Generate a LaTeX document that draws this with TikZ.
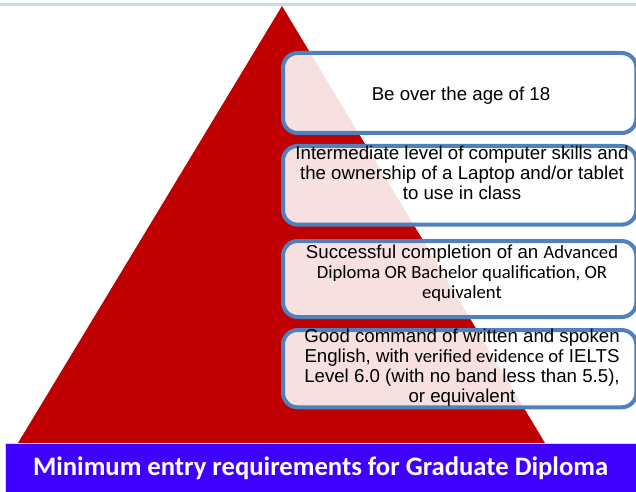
\documentclass[tikz,border=0pt]{standalone}
\usepackage{fontspec}
\setmainfont{Liberation Sans}
\newfontfamily\calibri{Carlito}
\definecolor{pyramidRed}{RGB}{192,0,0}
\definecolor{boxBlue}{RGB}{79,129,189}
\definecolor{bannerBlue}{RGB}{64,0,255}
\definecolor{topBlue}{RGB}{198,217,241}

\begin{document}
\begin{tikzpicture}[x=0.75pt,y=-0.75pt]
\tikzset{
    reqBox/.style={draw=boxBlue,line width=3pt,rounded corners=11pt,fill=white,fill opacity=0.88,
        draw opacity=1,anchor=north west,minimum width=265pt,inner sep=0pt},
    reqText/.style={font=\fontsize{14}{15}\selectfont,align=center,text=black,inner sep=0pt},
    bannerBox/.style={fill=bannerBlue,draw=gray!30,line width=0.4pt,anchor=north west,
        minimum width=473pt,minimum height=36.75pt,inner sep=0pt,
        text=white,font=\calibri\bfseries\fontsize{20}{24}\selectfont}
}
\useasboundingbox (0,0) rectangle (636,492);
% pyramid corners
\coordinate (top) at (282,6);
\coordinate (baseR) at (545,443);
\coordinate (baseL) at (18,443);

\draw[topBlue,line width=2.25pt] (0,4.5) -- (636,4.5);
\fill[pyramidRed] (top) -- (baseR) -- (baseL) -- cycle;

% requirement boxes, top to bottom
\node[reqBox,minimum height=60pt] (age) at (281,51) {};
\node[reqBox,minimum height=59pt] (computer) at (281,144) {};
\node[reqBox,minimum height=57pt] (diploma) at (281,239) {};
\node[reqBox,minimum height=58pt] (english) at (281,328) {};

\node[reqText] (ageTxt) at (461,96) {Be over the age of 18};
\node[reqText] (computerTxt) at (462,173) {Intermediate level of computer skills and\\
    the ownership of a Laptop and/or tablet\\to use in class};
\node[reqText] (diplomaTxt) at (462,273) {Successful completion of an {\calibri Advanced}\\
    {\calibri Diploma OR Bachelor qualification, OR}\\
    {\calibri equivalent}};
\node[reqText] (englishTxt) at (462,368) {Good command of written and spoken\\
    English, with {\calibri verified evidence of} IELTS\\
    Level 6.0 (with no band less than 5.5),\\or equivalent};

% caption bar
\node[bannerBox] (banner) at (5,443) {Minimum entry requirements for Graduate Diploma};
\end{tikzpicture}
\end{document}
